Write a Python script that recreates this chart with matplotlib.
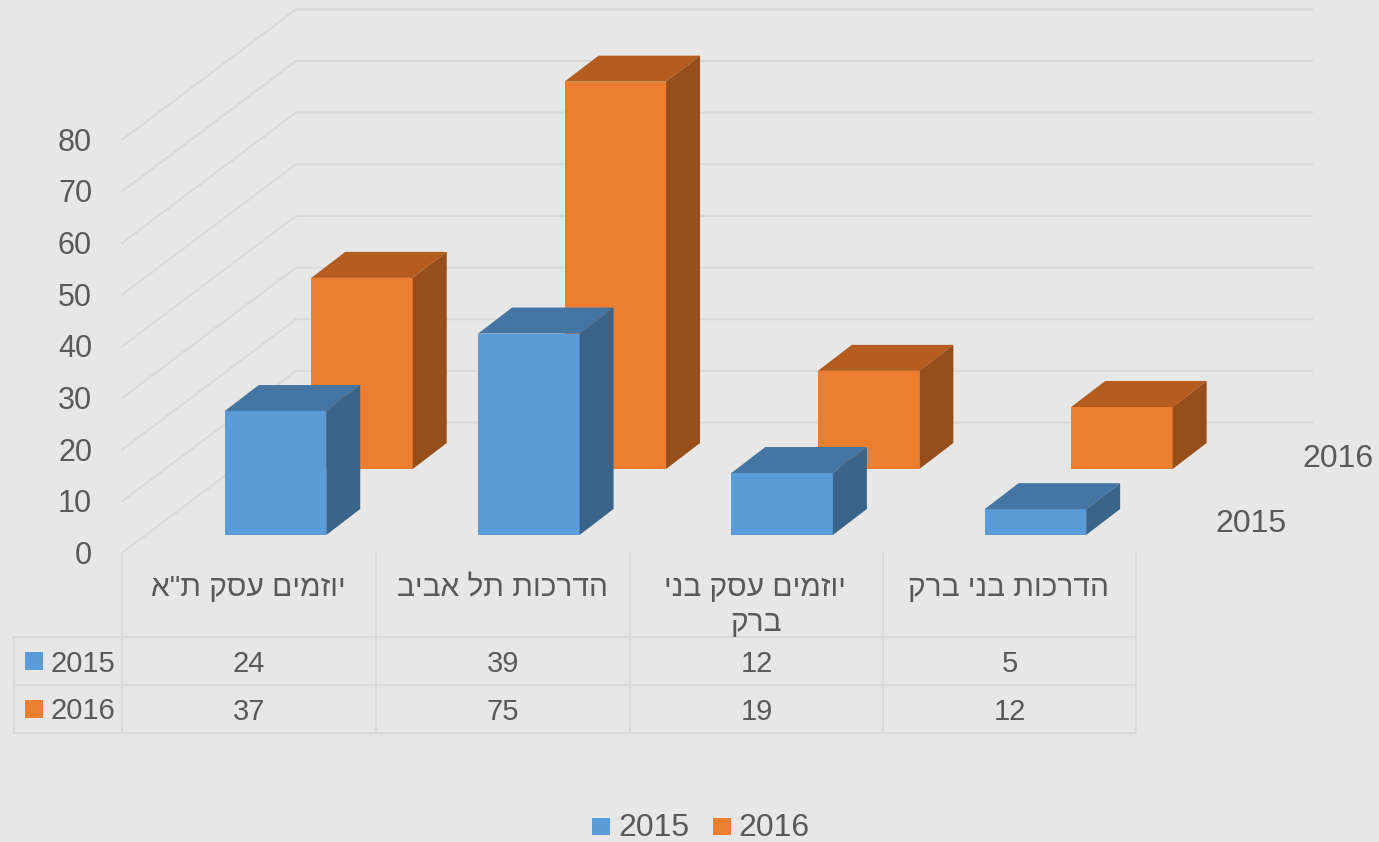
import matplotlib
matplotlib.use("Agg")
import matplotlib.pyplot as plt

categories = ['יוזמים עסק ת"א', "הדרכות תל אביב", "יוזמים עסק בני\nברק", "הדרכות בני ברק"]
series_names = ["2015", "2016"]
values_2015 = [24, 39, 12, 5]
values_2016 = [37, 75, 19, 12]
y_ticks = [0, 10, 20, 30, 40, 50, 60, 70, 80]

BG = "#e7e7e7"
GRID = "#d9d9d9"
TEXT = "#595959"
FONT = "Liberation Sans"

# Pixel layout of the picture, y value 0 on the front wall sits at pixel 553.
W, H = 1379, 842
PX_PER_UNIT = 5.165
COL = 253.3


def val_y(p):
    return (553 - p) / PX_PER_UNIT


def cat_x(p):
    return (p - 275.5) / COL


# Matplotlib has no bidi, so Hebrew goes in visual order.
def rtl(s):
    return "\n".join(line[::-1] for line in s.split("\n"))


def draw_row(ax, values, offset, base, front, top, side):
    width = 101.5 / COL
    dx = 34 / COL
    dy = 26 / PX_PER_UNIT
    for i, v in enumerate(values):
        left = i + offset - width / 2
        right = left + width
        ax.bar(i + offset, v, width=width, bottom=base, color=front, linewidth=0, zorder=3)
        ax.fill([left, left + dx, right + dx, right], [base + v, base + v + dy, base + v + dy, base + v],
                color=top, linewidth=0, zorder=3)
        ax.fill([right, right + dx, right + dx, right], [base, base + dy, base + v + dy, base + v],
                color=side, linewidth=0, zorder=3)


fig = plt.figure(figsize=(W / 100, H / 100), dpi=100, facecolor=BG)
ax = fig.add_axes([0, 0, 1, 1])
ax.set_xlim(cat_x(0), cat_x(W))
ax.set_ylim(val_y(H), val_y(0))
ax.axis("off")

# Walls of the 3D box: sloped side wall plus back wall.
depth = 130.5 / PX_PER_UNIT
for t in y_ticks:
    ax.plot([cat_x(122), cat_x(296), cat_x(1312)], [t, t + depth, t + depth], color=GRID, lw=1.5, zorder=1)

# The back row is drawn first so the front row covers it.
draw_row(ax, values_2016, 86.5 / COL, val_y(469), "#ed7d2f", "#b55d21", "#984e1b")
draw_row(ax, values_2015, 0, val_y(535), "#5b9bd8", "#4575a2", "#3a648a")

# Overlay in pixels for the table and the text.
px = fig.add_axes([0, 0, 1, 1])
px.set_xlim(0, W)
px.set_ylim(H, 0)
px.axis("off")
px.patch.set_alpha(0)

for t in y_ticks:
    px.text(92, 556 - t * PX_PER_UNIT, str(t), ha="right", va="center", fontsize=22, color=TEXT, family=FONT)

px.text(1338, 459, series_names[1], ha="center", va="center", fontsize=23, color=TEXT, family=FONT)
px.text(1251, 524, series_names[0], ha="center", va="center", fontsize=23, color=TEXT, family=FONT)

# Data table grid.
col_edges = [122, 376, 630, 883, 1136]
row_edges = [637, 685, 733]
for x in col_edges:
    px.plot([x, x], [553, 733], color=GRID, lw=1.5)
px.plot([14, 14], [637, 733], color=GRID, lw=1.5)
for y in row_edges:
    px.plot([14, 1136], [y, y], color=GRID, lw=1.5)

for i, c in enumerate(categories):
    cx = (col_edges[i] + col_edges[i + 1]) / 2
    px.text(cx - 1, 574, rtl(c), ha="center", va="top", fontsize=21.5, color=TEXT, family=FONT, linespacing=1.34)
    px.text(cx, 664, str(values_2015[i]), ha="center", va="center", fontsize=21, color=TEXT, family=FONT)
    px.text(cx, 712, str(values_2016[i]), ha="center", va="center", fontsize=21, color=TEXT, family=FONT)

# Legend keys in the table.
px.fill([25, 43, 43, 25], [652, 652, 670, 670], color="#5b9bd8", linewidth=0)
px.fill([25, 43, 43, 25], [700, 700, 718, 718], color="#ed7d2f", linewidth=0)
px.text(51, 664, series_names[0], ha="left", va="center", fontsize=21, color=TEXT, family=FONT)
px.text(51, 711, series_names[1], ha="left", va="center", fontsize=21, color=TEXT, family=FONT)

# Bottom legend.
px.fill([592, 610, 610, 592], [818, 818, 835, 835], color="#5b9bd8", linewidth=0)
px.fill([713, 731, 731, 713], [818, 818, 835, 835], color="#ed7d2f", linewidth=0)
px.text(618, 828, series_names[0], ha="left", va="center", fontsize=23, color=TEXT, family=FONT)
px.text(738, 828, series_names[1], ha="left", va="center", fontsize=23, color=TEXT, family=FONT)

fig.savefig("out.png", dpi=100, facecolor=BG)
